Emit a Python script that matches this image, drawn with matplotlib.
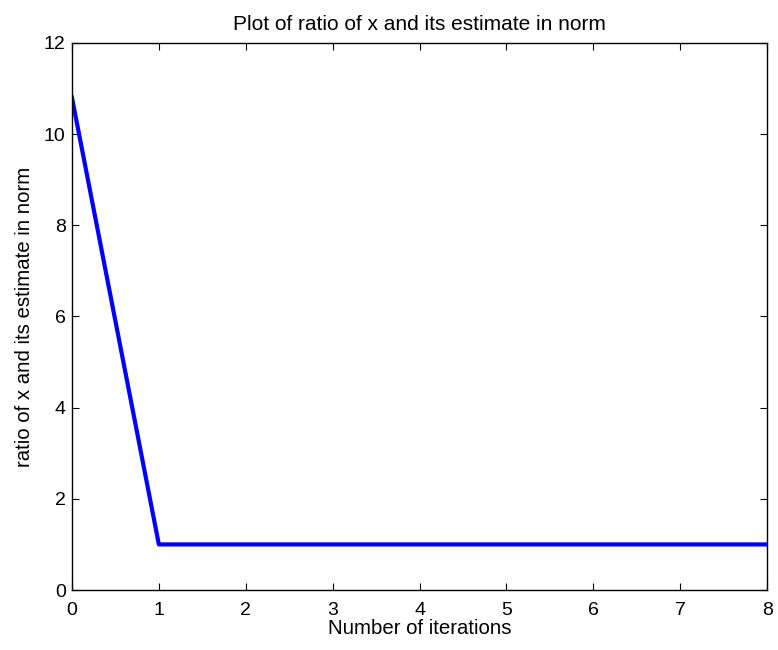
import matplotlib
matplotlib.use("Agg")
import matplotlib.pyplot as plt

iterations = [0, 1, 2, 3, 4, 5, 6, 7, 8]
ratio = [10.8, 1.0, 1.0, 1.0, 1.0, 1.0, 1.0, 1.0, 1.0]
xticks = [0, 1, 2, 3, 4, 5, 6, 7, 8]
yticks = [0, 2, 4, 6, 8, 10, 12]

plt.rcParams['font.family'] = ['Liberation Sans', 'DejaVu Sans']

fig = plt.figure(figsize=(7.78, 6.5), dpi=100)
ax = fig.add_axes([0.0925, 0.0923, 0.8935, 0.8417])
ax.plot(iterations, ratio, color='#0000ff', linewidth=3)
ax.set_xlim(0, 8)
ax.set_ylim(0, 12)
ax.set_xticks(xticks)
ax.set_yticks(yticks)
ax.tick_params(direction='in', length=5, width=0.8, labelsize=14, top=True, right=True,
               labeltop=False, labelright=False)
ax.tick_params(axis='x', pad=8.5)
ax.tick_params(axis='y', pad=4.5)
for s in ax.spines.values():
    s.set_linewidth(1.0)
ax.set_title('Plot of ratio of x and its estimate in norm', fontsize=15, pad=9)
ax.set_xlabel('Number of iterations', fontsize=14.7, labelpad=0)
ax.set_ylabel('ratio of x and its estimate in norm', fontsize=14.7, labelpad=7)
fig.savefig('out.png', dpi=100)
